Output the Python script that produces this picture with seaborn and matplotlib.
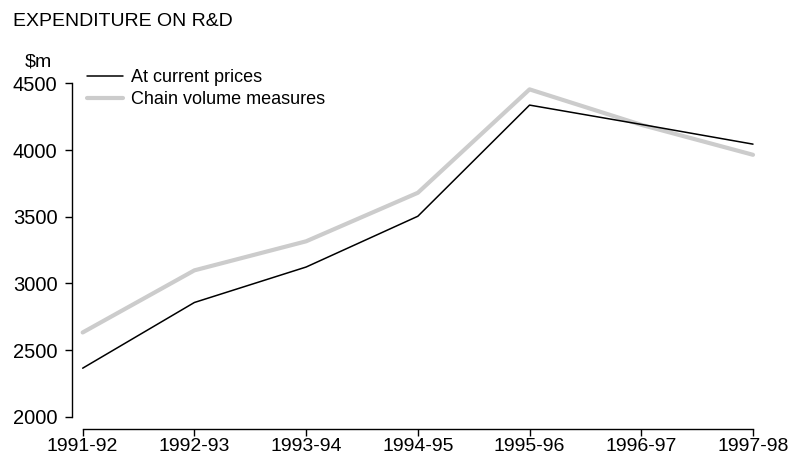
import matplotlib
matplotlib.use("Agg")
import matplotlib.pyplot as plt
import seaborn as sns
import pandas as pd
from matplotlib.lines import Line2D

years = ["1991-92", "1992-93", "1993-94", "1994-95", "1995-96", "1996-97", "1997-98"]
current_prices = [2364, 2857, 3123, 3504, 4338, 4193, 4045]
chain_volume = [2632, 3098, 3316, 3680, 4456, 4190, 3965]
series_names = ["At current prices", "Chain volume measures"]
y_ticks = [2000, 2500, 3000, 3500, 4000, 4500]

sns.set_style("white")
plt.rcParams['font.family'] = ['Liberation Sans', 'DejaVu Sans']
plt.rcParams['text.color'] = 'black'

df = pd.DataFrame({
    "year": years * 2,
    "value": current_prices + chain_volume,
    "series": [series_names[0]] * len(years) + [series_names[1]] * len(years),
})
df["x"] = [years.index(y) for y in df["year"]]

fig = plt.figure(figsize=(7.95, 4.57), dpi=100)
ax = fig.add_axes([71.5/795, 1-416.7/457, (753-71.5)/795, (416.7-83.5)/457])

sns.lineplot(data=df[df.series == series_names[1]], x="x", y="value", color="#cccccc",
             linewidth=3.0, ax=ax, legend=False, clip_on=False)
sns.lineplot(data=df[df.series == series_names[0]], x="x", y="value", color="black",
             linewidth=1.1, ax=ax, legend=False, clip_on=False)

ax.set_xlim(-0.1, 6)
ax.set_ylim(2000, 4500)
ax.set_xticks(range(len(years)))
ax.set_xticklabels(years)
ax.set_yticks(y_ticks)
ax.set_xlabel("")
ax.set_ylabel("")

for s in ["top", "right"]:
    ax.spines[s].set_visible(False)
ax.spines["left"].set_bounds(2000, 4500)
ax.spines["bottom"].set_bounds(0, 6)
ax.spines["bottom"].set_position(("outward", 8.8))
for s in ["left", "bottom"]:
    ax.spines[s].set_color("black")
    ax.spines[s].set_linewidth(1.0)
ax.tick_params(axis="both", which="major", length=5, width=1.0, color="black",
               labelsize=14, labelcolor="black", left=True, bottom=True)
ax.tick_params(axis="y", pad=5, labelsize=14.5)
ax.tick_params(axis="x", pad=1.5)

handles = [Line2D([], [], color="black", linewidth=1.1),
           Line2D([], [], color="#cccccc", linewidth=3.0)]
leg = ax.legend(handles, series_names, loc="upper left", bbox_to_anchor=(0.023, 1.043),
                frameon=False, fontsize=13, handlelength=2.0, handletextpad=0.4,
                labelspacing=0.28, borderaxespad=0, borderpad=0)

fig.text(13/795, 1-21/457, "EXPENDITURE ON R&D", fontsize=14,
         va="center", ha="left", color="black")
fig.text(38/795, 1-62/457, "$m", fontsize=14, va="center", ha="center", color="black")

fig.savefig("out.png", dpi=100)
